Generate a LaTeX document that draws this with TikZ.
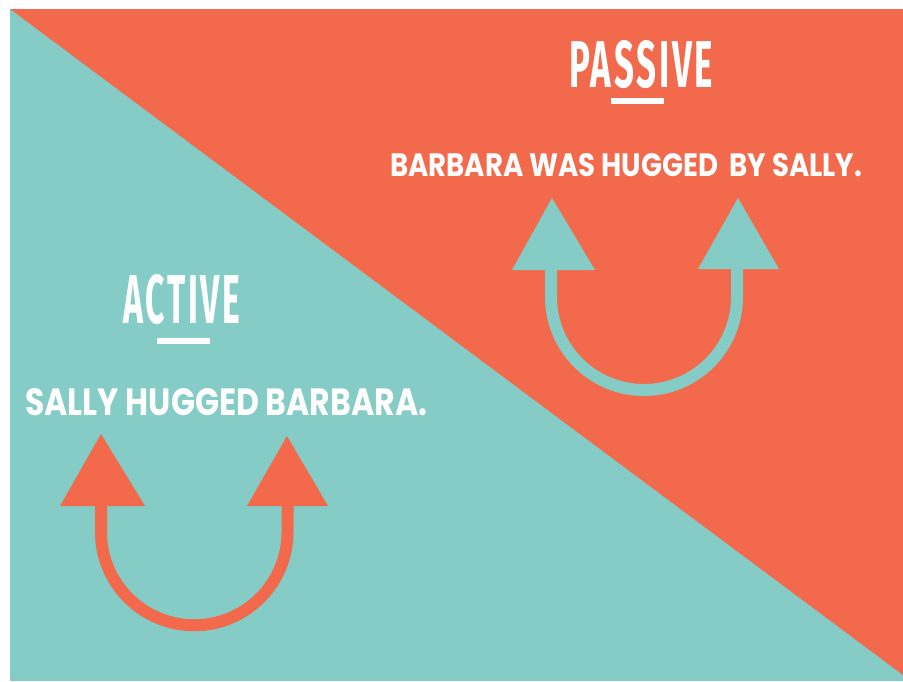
\documentclass[tikz,border=0pt]{standalone}
\usepackage{fontspec}
\usepackage{graphicx}
\setmainfont{Poppins}
\newfontfamily\titlefont[LetterSpace=8]{Fira Sans}
\definecolor{mint}{HTML}{85CCC6}
\definecolor{coral}{HTML}{F26A4B}
\tikzset{
  label text/.style={anchor=north west, inner sep=0pt, text=white},
  ushaft/.style={line width=12pt},
}
\begin{document}
\begin{tikzpicture}[x=1pt,y=-1pt]
  \useasboundingbox (0,0) rectangle (903,681);
  \fill[white] (0,0) rectangle (903,681);
  % two halves split by the diagonal
  \fill[mint] (10,9) rectangle (903,681);
  \fill[coral] (10,9) -- (903,9) -- (903,675) -- cycle;

  % passive side
  \node[label text] (passive) at (569,40)
    {\resizebox{144pt}{47pt}{\titlefont\bfseries PASSIVE}};
  \fill[white] (611,98) rectangle (664,104);
  \node[label text] (passivesentence) at (390,153)
    {\resizebox{472pt}{23pt}{\bfseries BARBARA WAS HUGGED\ \ BY SALLY.}};
  \draw[mint, ushaft] (551,270) -- (551,297)
    arc[start angle=180, end angle=360, radius=93pt] -- (737,269);
  \fill[mint] (552,198) -- (595,270) -- (512,270) -- cycle;
  \fill[mint] (738,198) -- (779,269) -- (698,269) -- cycle;

  % active side
  \node[label text] (active) at (123,274)
    {\resizebox{117pt}{49pt}{\titlefont\bfseries ACTIVE}};
  \fill[white] (157,338) rectangle (210,344);
  \node[label text] (activesentence) at (25,388)
    {\resizebox{402pt}{27pt}{\bfseries SALLY HUGGED BARBARA.}};
  \draw[coral, ushaft] (101,506) -- (101,532)
    arc[start angle=180, end angle=360, radius=93.25pt] -- (287.5,506);
  \fill[coral] (101,434) -- (145,506) -- (60,506) -- cycle;
  \fill[coral] (287,436) -- (328,506) -- (247,506) -- cycle;
\end{tikzpicture}
\end{document}
